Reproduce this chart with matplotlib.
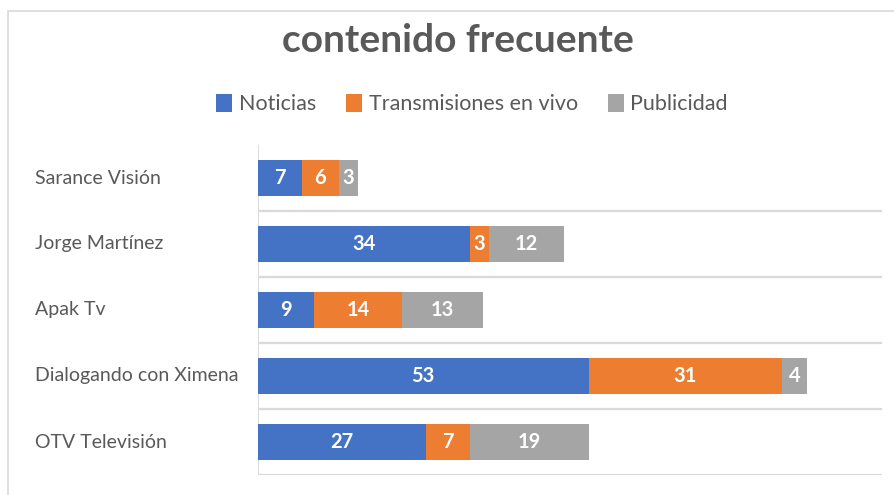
import matplotlib
matplotlib.use("Agg")
import matplotlib.pyplot as plt
from matplotlib.patches import Rectangle, Patch
from matplotlib.transforms import blended_transform_factory
import numpy as np

# --- data ---
canales = ["Sarance Visión", "Jorge Martínez", "Apak Tv", "Dialogando con Ximena", "OTV Televisión"]
series_names = ["Noticias", "Transmisiones en vivo", "Publicidad"]
noticias = [7, 34, 9, 53, 27]
transmisiones = [6, 3, 14, 31, 7]
publicidad = [3, 12, 13, 4, 19]

colores = ["#4472C4", "#ED7D31", "#A5A5A5"]
texto = "#595959"
linea = "#D9D9D9"

plt.rcParams["font.family"] = ["Lato", "DejaVu Sans"]

W, H = 895, 495
fig = plt.figure(figsize=(W / 100, H / 100), dpi=100)

# chart area border (only top and left visible in the crop)
fig.patches.append(Rectangle((8 / W, -0.1), 1.2, (H - 11) / H + 0.1,
                             transform=fig.transFigure, fill=False,
                             edgecolor=linea, linewidth=1.2))

ax = fig.add_axes([258 / W, 20 / H, 624 / W, 330 / H])

n = len(canales)
y = np.arange(n)[::-1]  # first category on top
left = np.zeros(n)
for vals, name, col in zip([noticias, transmisiones, publicidad], series_names, colores):
    vals = np.array(vals, dtype=float)
    ax.barh(y, vals, left=left, height=0.545, color=col, label=name, zorder=3)
    for yi, l, v in zip(y, left, vals):
        ax.text(l + v / 2, yi, f"{int(v)}", ha="center", va="center",
                color="white", fontsize=14.5, fontweight="bold", zorder=4)
    left += vals

ax.set_xlim(0, 100)
ax.set_ylim(-0.5, n - 0.5)

# separator lines between categories (no line at the top)
for b in np.arange(-0.5, n - 1, 1.0):
    ax.axhline(b, color=linea, linewidth=1.6, zorder=1)
ax.axvline(0, color=linea, linewidth=1.4, zorder=2)

for s in ax.spines.values():
    s.set_visible(False)
ax.set_xticks([])
ax.set_yticks([])

# category labels, left aligned as in the reference
lbl_tr = blended_transform_factory(fig.transFigure, ax.transData)
for yi, name in zip(y, canales):
    ax.text(35 / W, yi, name, transform=lbl_tr,
            ha="left", va="center", color=texto, fontsize=14)

fig.text(458 / W, 1 - 41 / H, "contenido frecuente", ha="center", va="center",
         fontsize=28, fontweight="bold", color=texto)

handles = [Patch(facecolor=c, edgecolor="none") for c in colores]
fig.legend(handles, series_names, loc="center", bbox_to_anchor=(472 / W, 1 - 104 / H),
           ncol=3, frameon=False, fontsize=15.5, labelcolor=texto,
           handlelength=0.75, handleheight=0.9, handletextpad=0.3, columnspacing=1.4)

fig.savefig("out.png", dpi=100)
